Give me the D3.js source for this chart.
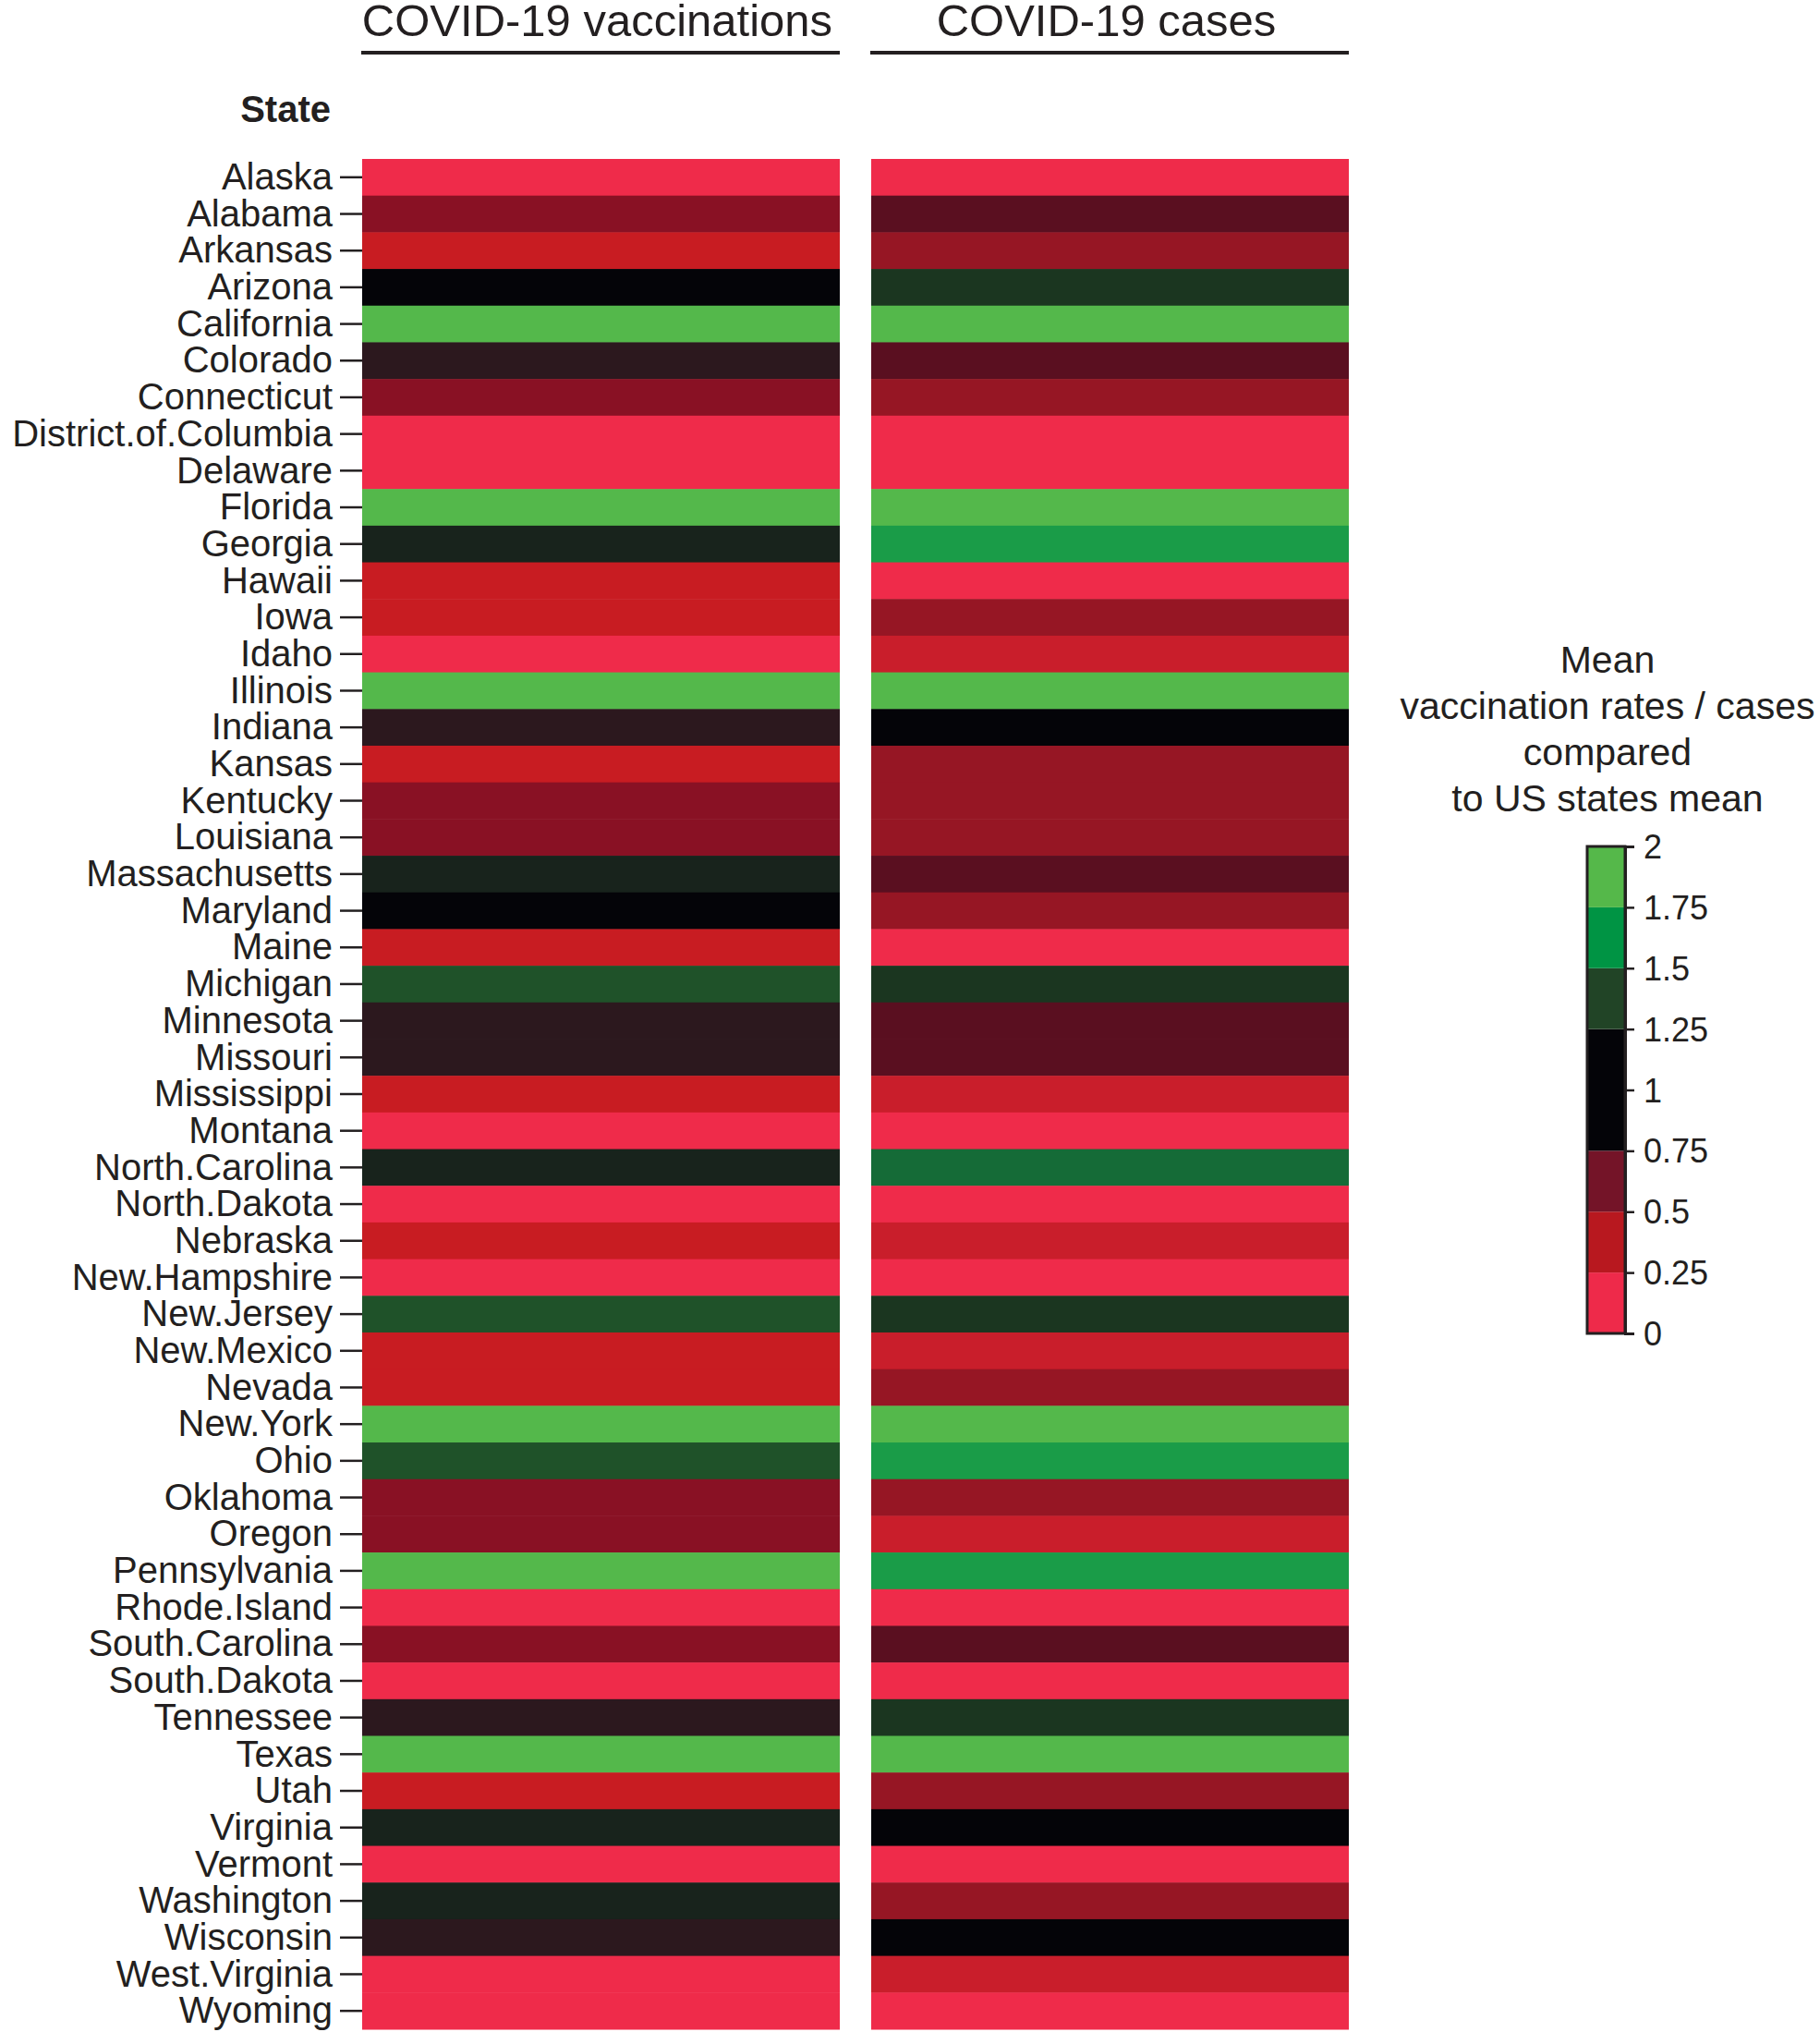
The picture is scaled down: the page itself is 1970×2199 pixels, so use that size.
<!DOCTYPE html>
<html>
<head>
<meta charset="utf-8">
<script src="https://cdn.jsdelivr.net/npm/d3@7"></script>
<style>
  html, body { margin: 0; padding: 0; background: #ffffff; }
  svg { display: block; }
  text { font-family: "Liberation Sans", Arial, Helvetica, sans-serif; fill: #231f20; }
</style>
</head>
<body>
<svg id="chart" width="1970" height="2199"></svg>
<script>
// ---------- data ----------
const states = ["Alaska","Alabama","Arkansas","Arizona","California","Colorado","Connecticut",
  "District.of.Columbia","Delaware","Florida","Georgia","Hawaii","Iowa","Idaho","Illinois","Indiana",
  "Kansas","Kentucky","Louisiana","Massachusetts","Maryland","Maine","Michigan","Minnesota","Missouri",
  "Mississippi","Montana","North.Carolina","North.Dakota","Nebraska","New.Hampshire","New.Jersey",
  "New.Mexico","Nevada","New.York","Ohio","Oklahoma","Oregon","Pennsylvania","Rhode.Island",
  "South.Carolina","South.Dakota","Tennessee","Texas","Utah","Virginia","Vermont","Washington",
  "Wisconsin","West.Virginia","Wyoming"];

const columns = ["COVID-19 vaccinations", "COVID-19 cases"];

// mean value compared to US states mean
const vaccinations = [0.15,0.55,0.35,1.00,1.90,0.80,0.55,0.10,0.10,1.90,1.20,0.35,0.35,0.15,1.90,0.80,
  0.35,0.55,0.55,1.20,1.00,0.35,1.40,0.80,0.80,0.35,0.15,1.20,0.15,0.35,0.15,1.40,0.35,0.35,1.90,1.40,
  0.55,0.55,1.90,0.15,0.55,0.15,0.80,1.90,0.35,1.20,0.15,1.20,0.80,0.10,0.10];

const cases = [0.15,0.65,0.45,1.30,1.90,0.65,0.45,0.10,0.10,1.90,1.70,0.15,0.45,0.30,1.90,1.00,
  0.45,0.45,0.45,0.65,0.45,0.15,1.30,0.65,0.65,0.30,0.15,1.55,0.15,0.30,0.15,1.30,0.30,0.45,1.90,1.70,
  0.45,0.30,1.70,0.15,0.65,0.15,1.30,1.90,0.45,1.00,0.15,0.45,1.00,0.30,0.15];

// continuous colour ramp used for the cells
const colorStops  = [0, 0.25, 0.30, 0.35, 0.45, 0.55, 0.65, 0.80, 1.00, 1.20, 1.30, 1.40, 1.55, 1.70, 1.85, 2.00];
const colorValues = ["#ef2b4a","#ef2b4a","#c91e2b","#c81c22","#961624","#891124","#5a0f20","#2c181e",
  "#040408","#18231c","#1b3620","#1f5229","#156b37","#1a9c48","#54b84b","#54b84b"];

// binned legend
const legendBins   = [0, 0.25, 0.5, 0.75, 1.25, 1.5, 1.75, 2];
const legendColors = ["#ee2a4a","#b8181f","#741428","#040408","#214426","#009444","#55b84a"];
const legendTicks  = [0, 0.25, 0.5, 0.75, 1, 1.25, 1.5, 1.75, 2];
const legendTickLabels = ["0","0.25","0.5","0.75","1","1.25","1.5","1.75","2"];
const legendTitle = ["Mean", "vaccination rates / cases", "compared", "to US states mean"];

// ---------- drawing ----------
const svg = d3.select("#chart");
const color = d3.scaleLinear().domain(colorStops).range(colorValues).clamp(true);

const y = d3.scaleBand().domain(states).range([172, 2196]).padding(0);
const x = d3.scaleBand().domain(columns).range([392, 1460]).paddingInner(0.0617).paddingOuter(0);

const cells = [];
states.forEach((s, i) => {
  cells.push({state: s, col: columns[0], v: vaccinations[i]});
  cells.push({state: s, col: columns[1], v: cases[i]});
});

svg.append("g").selectAll("rect").data(cells).join("rect")
  .attr("x", d => x(d.col))
  .attr("y", d => y(d.state))
  .attr("width", x.bandwidth())
  .attr("height", y.bandwidth() + 0.5)
  .attr("fill", d => color(d.v));

// column titles with underline
const head = svg.append("g");
head.selectAll("text").data(columns).join("text")
  .attr("x", d => x(d) + x.bandwidth() / 2 - 4)
  .attr("y", 39)
  .attr("text-anchor", "middle")
  .attr("font-size", 49)
  .text(d => d);
head.selectAll("line").data(columns).join("line")
  .attr("x1", d => x(d) - 1)
  .attr("x2", d => x(d) + x.bandwidth())
  .attr("y1", 57).attr("y2", 57)
  .attr("stroke", "#231f20").attr("stroke-width", 4);

// y axis
const yAxis = svg.append("g")
  .attr("transform", "translate(392,0)")
  .call(d3.axisLeft(y).tickSize(24).tickPadding(8));
yAxis.select(".domain").remove();
yAxis.selectAll(".tick line").attr("stroke", "#231f20").attr("stroke-width", 2.5);
yAxis.selectAll(".tick text")
  .attr("font-size", 40)
  .attr("font-family", "'Liberation Sans', Arial, sans-serif")
  .attr("fill", "#231f20")
  .attr("dy", "0.33em");

svg.append("text")
  .attr("x", 358).attr("y", 132)
  .attr("text-anchor", "end")
  .attr("font-size", 40)
  .attr("font-weight", "bold")
  .text("State");

// legend
const ly = d3.scaleLinear().domain([0, 2]).range([1443, 916]);
const lx0 = 1718, lx1 = 1759;
const leg = svg.append("g");
leg.selectAll("rect.bin").data(legendColors).join("rect")
  .attr("class", "bin")
  .attr("x", lx0)
  .attr("y", (d, i) => ly(legendBins[i + 1]))
  .attr("width", lx1 - lx0)
  .attr("height", (d, i) => ly(legendBins[i]) - ly(legendBins[i + 1]))
  .attr("fill", d => d);
leg.append("rect")
  .attr("x", lx0).attr("y", ly(2))
  .attr("width", lx1 - lx0).attr("height", ly(0) - ly(2))
  .attr("fill", "none").attr("stroke", "#231f20").attr("stroke-width", 3);

const lAxis = leg.append("g")
  .attr("transform", `translate(${lx1},0)`)
  .call(d3.axisRight(ly).tickValues(legendTicks)
    .tickFormat((d, i) => legendTickLabels[i]).tickSize(10).tickPadding(10));
lAxis.select(".domain").attr("stroke", "#231f20").attr("stroke-width", 3);
lAxis.selectAll(".tick line").attr("stroke", "#231f20").attr("stroke-width", 2.5);
lAxis.selectAll(".tick text")
  .attr("font-size", 36)
  .attr("font-family", "'Liberation Sans', Arial, sans-serif")
  .attr("fill", "#231f20")
  .attr("dy", "0.35em");

leg.selectAll("text.title").data(legendTitle).join("text")
  .attr("class", "title")
  .attr("x", 1740)
  .attr("y", (d, i) => 728 + i * 50)
  .attr("text-anchor", "middle")
  .attr("font-size", 41)
  .text(d => d);
</script>
</body>
</html>
